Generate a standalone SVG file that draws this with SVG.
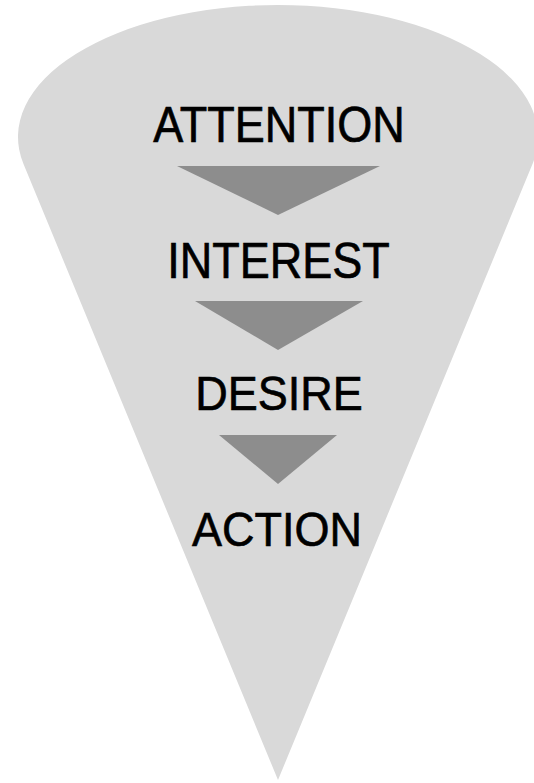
<svg xmlns="http://www.w3.org/2000/svg" width="534" height="783" viewBox="0 0 534 783">
<style>
.lbl{font-family:"Liberation Sans",Arial,Helvetica,sans-serif;font-size:45px;fill:#000;stroke:#000;stroke-width:0.6;text-anchor:middle}
.arr{fill:#8d8d8d}
</style>
<rect width="534" height="783" fill="#ffffff"/>
<g id="cone">
<path d="M 23.5 164 A 260 132 0 1 1 532.5 164 L 278 780 Z" fill="#d9d9d9"/>
</g>
<g id="connectors">
<polygon class="arr" points="177,166 380,166 278,215"/>
<polygon class="arr" points="195,301 363,301 278,350"/>
<polygon class="arr" points="219,435 337,435 278,484"/>
</g>
<g id="attention"><text class="lbl" transform="translate(279,142) scale(1,1.1)">ATTENTION</text></g>
<g id="interest"><text class="lbl" transform="translate(278.5,278) scale(1,1.1)">INTEREST</text></g>
<g id="desire"><text class="lbl" transform="translate(279,410) scale(1,1.06)">DESIRE</text></g>
<g id="action"><text class="lbl" transform="translate(277,546) scale(1,1.06)">ACTION</text></g>
</svg>
